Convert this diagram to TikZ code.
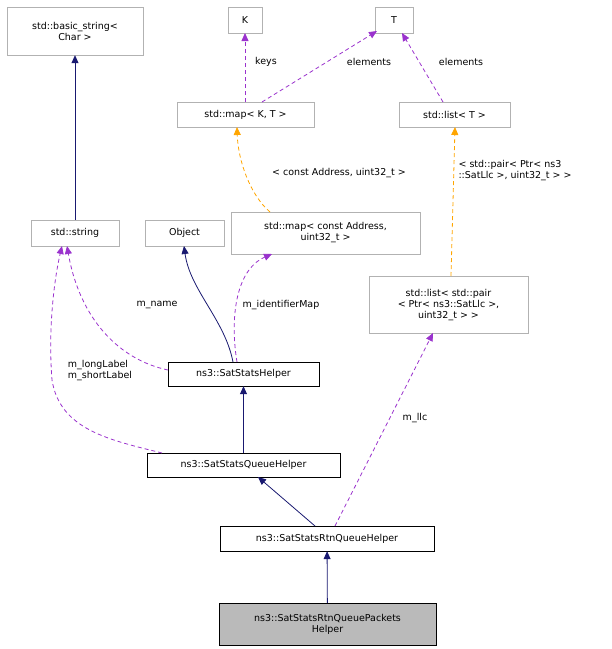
\documentclass[tikz,border=0pt]{standalone}
\usepackage{fontspec}
\setmainfont{DejaVu Sans}
\usetikzlibrary{arrows.meta}
\definecolor{navy}{RGB}{25,25,112}
\definecolor{purp}{RGB}{154,50,205}
\definecolor{orng}{RGB}{255,165,0}
\begin{document}
\begin{tikzpicture}[x=1pt,y=-1pt,
 box/.style={draw=black!30,fill=white,inner sep=0pt,align=center,font=\fontsize{9.5}{11}\selectfont},
 bb/.style={box,draw=black},
 inh/.style={draw=navy,line width=0.8pt,-{Triangle[length=8pt,width=7pt,fill=navy]}},
 use/.style={draw=purp,line width=0.8pt,dash pattern=on 4pt off 3pt,-{Triangle[length=8pt,width=7pt,fill=purp]}},
 tmpl/.style={draw=orng,line width=0.8pt,dash pattern=on 4pt off 3pt,-{Triangle[length=8pt,width=7pt,fill=orng]}},
 lab/.style={font=\fontsize{9.5}{11}\selectfont,text=black,align=left}]
\useasboundingbox (0,0) rectangle (612,649);
\node[box,minimum width=34,minimum height=26] (K) at (245,20) {K};
\node[box,minimum width=38,minimum height=26] (T) at (394,20) {T};
\node[box,minimum width=136,minimum height=48] (bs) at (75,31) {std::basic\_string<\\Char >};
\node[box,minimum width=137,minimum height=25] (mapKT) at (245.5,115) {std::map< K, T >};
\node[box,minimum width=111,minimum height=25] (listT) at (454.5,115) {std::list< T >};
\node[box,minimum width=88,minimum height=26] (str) at (75,233) {std::string};
\node[box,minimum width=79,minimum height=26] (obj) at (184.5,233) {Object};
\node[box,minimum width=189,minimum height=42] (mapA) at (325.5,233) {std::map< const Address,\\uint32\_t >};
\node[box,minimum width=159,minimum height=57] (listP) at (448.5,305) {std::list< std::pair\\< Ptr< ns3::SatLlc >,\\uint32\_t > >};
\node[bb,minimum width=151,minimum height=24] (ssh) at (243.5,374) {ns3::SatStatsHelper};
\node[bb,minimum width=193,minimum height=24] (sqh) at (243.5,465) {ns3::SatStatsQueueHelper};
\node[bb,minimum width=214,minimum height=25] (rqh) at (327,538.5) {ns3::SatStatsRtnQueueHelper};
\node[bb,fill=black!27,minimum width=217,minimum height=42] (pk) at (327.5,624) {ns3::SatStatsRtnQueuePackets\\Helper};
% inheritance
\draw[inh] (str) -- (bs);
\draw[inh] (233,362) .. controls (225,320) and (190,290) .. (184,246);
\draw[inh] (sqh) -- (ssh);
\draw[inh] (315,526) -- (258,477);
\draw[inh] (pk) -- (rqh);
% templates
\draw[use] (245,102) -- (245,33);
\node[lab] at (266,62) {keys};
\draw[use] (262,102) -- (377,31);
\node[lab] at (369,62) {elements};
\draw[use] (443,102) -- (402,33);
\node[lab] at (461,62) {elements};
\draw[tmpl] (270,212) .. controls (250,195) and (238,160) .. (237,127);
\node[lab] at (339,173) {< const Address, uint32\_t >};
\draw[tmpl] (451,276) -- (455,127);
\node[lab,anchor=west] at (455,171) {< std::pair< Ptr< ns3\\::SatLlc >, uint32\_t > >};
% usage
\draw[use] (168,370) .. controls (120,360) and (80,320) .. (67,246);
\node[lab] at (157,305) {m\_name};
\draw[use] (162,453) .. controls (110,440) and (60,430) .. (52,380) .. controls (48,330) and (54,280) .. (62,246);
\node[lab] at (100,371) {m\_longLabel\\m\_shortLabel};
\draw[use] (237,362) .. controls (230,320) and (235,270) .. (272,254);
\node[lab] at (281,305) {m\_identifierMap};
\draw[use] (335,526) -- (433,333);
\node[lab] at (415,418) {m\_llc};
\end{tikzpicture}
\end{document}
